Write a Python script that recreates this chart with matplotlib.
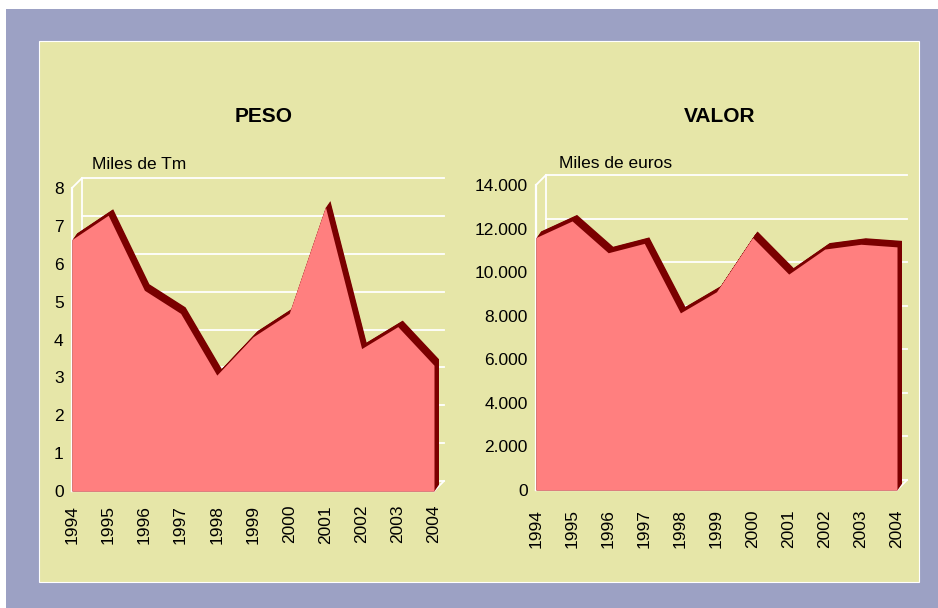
import numpy as np
import matplotlib
matplotlib.use("Agg")
import matplotlib.pyplot as plt
from matplotlib.patches import Rectangle

plt.rcParams['font.family'] = ['Liberation Sans', 'DejaVu Sans']

years = [1994, 1995, 1996, 1997, 1998, 1999, 2000, 2001, 2002, 2003, 2004]
peso = [6.64, 7.28, 5.30, 4.69, 3.06, 4.07, 4.69, 7.50, 3.76, 4.34, 3.32]
valor = [11590, 12350, 10890, 11320, 8130, 9100, 11590, 9910, 11060, 11280, 11160]

peso_ticks = [0, 1, 2, 3, 4, 5, 6, 7, 8]
peso_labels = ['0', '1', '2', '3', '4', '5', '6', '7', '8']
valor_ticks = [0, 2000, 4000, 6000, 8000, 10000, 12000, 14000]
valor_labels = ['0', '2.000', '4.000', '6.000', '8.000', '10.000', '12.000', '14.000']

W, H = 938, 608
PINK = '#FF7F7F'
DARK = '#7A0000'
YELLOW = '#E6E6A8'
BLUE = '#9CA1C4'

fig = plt.figure(figsize=(W / 100, H / 100), dpi=100, facecolor='white')
fig.patches.append(Rectangle((6 / W, 0), 932 / W, 599 / H, transform=fig.transFigure,
                             facecolor=BLUE, edgecolor='none', zorder=-10))
fig.patches.append(Rectangle((39 / W, 26 / H), 880 / W, 541 / H, transform=fig.transFigure,
                             facecolor=YELLOW, edgecolor='white', linewidth=0.8, zorder=-9))


def area3d(rect, vals, ticks, labels, ymax, xpad):
    ax = fig.add_axes([rect[0] / W, rect[1] / H, rect[2] / W, rect[3] / H])
    ax.set_xlim(years[0], years[-1])
    ax.set_ylim(0, ymax)
    ax.patch.set_visible(False)
    for s in ax.spines.values():
        s.set_visible(False)

    # pixel -> data units
    ux = (years[-1] - years[0]) / rect[2]
    uy = ymax / rect[3]
    wx, wy = 10 * ux, 10 * uy      # wall depth
    sx, sy = 4.5 * ux, 6.5 * uy    # series depth

    x = np.array(years, dtype=float)
    y = np.array(vals, dtype=float)

    # back wall grid
    for t in ticks:
        ax.plot([x[0] + wx, x[-1] + wx], [t + wy, t + wy], color='white', lw=1.3,
                clip_on=False, zorder=1)
    ax.plot([x[0] + wx, x[0] + wx], [wy, ymax + wy], color='white', lw=1.3, clip_on=False, zorder=1)
    ax.plot([x[0], x[0]], [0, ymax], color='white', lw=1.6, clip_on=False, zorder=1)
    ax.plot([x[0], x[0] + wx], [ymax, ymax + wy], color='white', lw=1.3, clip_on=False, zorder=1)
    ax.plot([x[0], x[-1]], [0, 0], color='white', lw=1.6, clip_on=False, zorder=1)
    ax.plot([x[-1], x[-1] + wx], [0, wy], color='white', lw=1.3, clip_on=False, zorder=1)

    # depth of the area
    for t in np.linspace(0, 1, 12):
        ax.fill_between(x + t * sx, y + t * sy, t * sy, color=DARK, lw=0,
                        clip_on=False, zorder=2)
    ax.fill_between(x, y, 0, color=PINK, lw=0, clip_on=False, zorder=3)

    ax.set_yticks(ticks, labels, fontsize=12.5)
    ax.set_xticks(years, [str(v) for v in years], fontsize=12.5, rotation=90)
    ax.tick_params(axis='y', length=0, pad=6)
    ax.tick_params(axis='x', length=0, pad=xpad)
    return ax


area3d((72, 117, 362, 303), peso, peso_ticks, peso_labels, 8, 10)
area3d((536, 118, 361, 305), valor, valor_ticks, valor_labels, 14000, 14)

fig.text(264 / W, 1 - 116 / H, 'PESO', fontsize=15, fontweight='bold', ha='center', va='center')
fig.text(720 / W, 1 - 116 / H, 'VALOR', fontsize=15, fontweight='bold', ha='center', va='center')
fig.text(92 / W, 1 - 165 / H, 'Miles de Tm', fontsize=12.5, ha='left', va='center')
fig.text(559 / W, 1 - 163 / H, 'Miles de euros', fontsize=12.5, ha='left', va='center')

fig.savefig('out.png', dpi=100, facecolor='white')
